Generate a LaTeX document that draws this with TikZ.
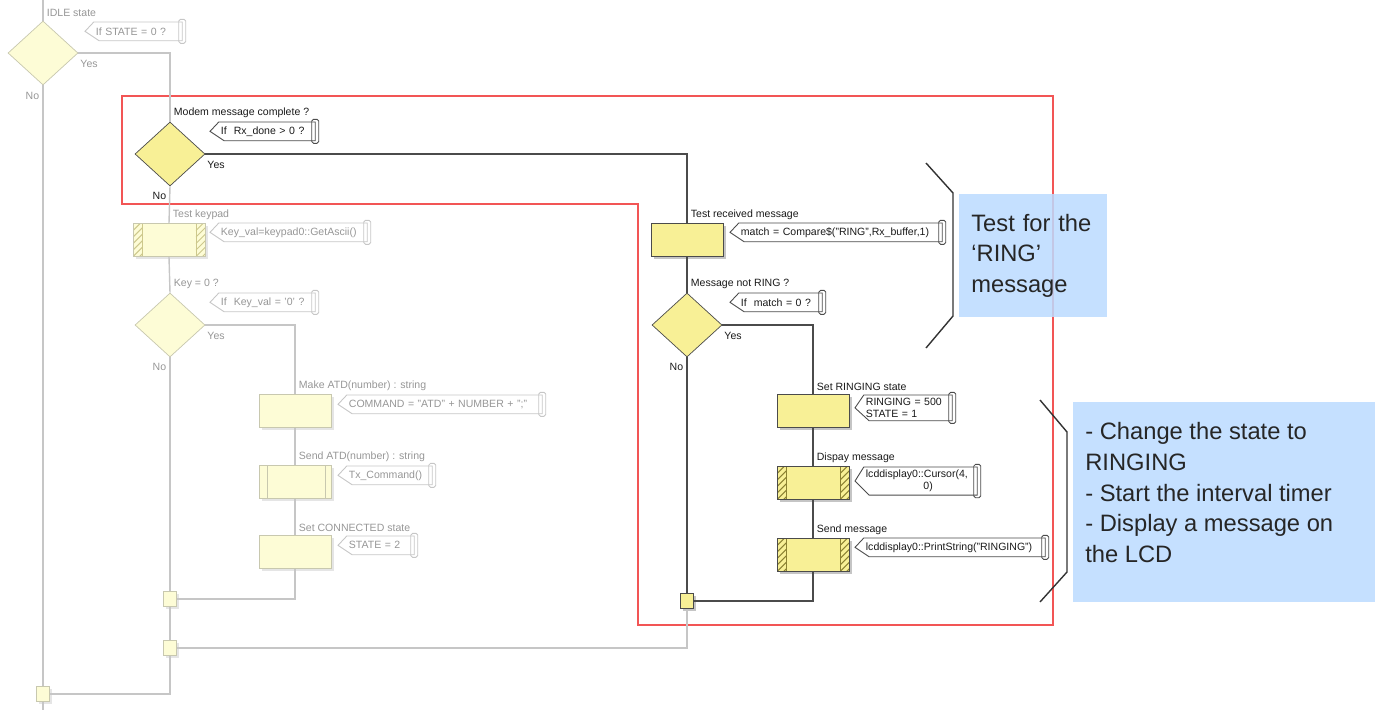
\documentclass[tikz,border=0pt]{standalone}
\usepackage{fontspec}
\setmainfont{Liberation Sans}
\usepackage{xcolor}
\definecolor{dline}{RGB}{75, 75, 75}
\definecolor{fline}{RGB}{198, 198, 198}
\definecolor{fedge}{RGB}{200, 200, 175}
\definecolor{dtext}{RGB}{25, 25, 25}
\definecolor{ftext}{RGB}{150, 150, 150}
\definecolor{dfill}{RGB}{248, 240, 150}
\definecolor{ffill}{RGB}{253, 252, 214}
\definecolor{dhatch}{RGB}{140, 130, 50}
\definecolor{fhatch}{RGB}{205, 200, 140}
\definecolor{redbox}{RGB}{242, 85, 85}
\definecolor{calloutblue}{RGB}{187, 219, 255}
\usepackage{tikz}
\usetikzlibrary{shapes.geometric, arrows.meta, positioning, calc, shadows}

\newcommand{\flowfont}{\fontsize{6}{7}\selectfont}
\newcommand{\calloutfont}{\fontsize{13.5}{17.5}\selectfont}

\begin{document}
\begin{tikzpicture}[x=0.02cm, y=-0.02cm,
		basebox/.style={rectangle, minimum width=1.44cm, minimum height=0.66cm, inner sep=0pt},
		actbox/.style={basebox, draw=dline, fill=dfill,
			drop shadow={shadow xshift=1.5pt, shadow yshift=-1.5pt, fill=black!45}},
		fadebox/.style={basebox, draw=fedge, fill=ffill,
			drop shadow={shadow xshift=1.5pt, shadow yshift=-1.5pt, fill=black!20}},
		hatched/.style={path picture={
				\foreach \side/\dx in {west/0cm, east/-0.18cm} {
					\begin{scope}
						\clip ([xshift=\dx]path picture bounding box.south \side) rectangle ++(0.18cm,0.7cm);
						\foreach \k in {-2,...,5}
						\draw[#1, line width=0.6pt] ([xshift=\dx, yshift=\k*0.13cm]path picture bounding box.south \side) -- ++(0.3cm,0.3cm);
					\end{scope}
				}
				\draw[#1] ([xshift=0.18cm]path picture bounding box.north west) -- ([xshift=0.18cm]path picture bounding box.south west)
				([xshift=-0.18cm]path picture bounding box.north east) -- ([xshift=-0.18cm]path picture bounding box.south east);}},
		subproc/.style={path picture={
				\draw[#1] ([xshift=0.17cm]path picture bounding box.north west) -- ([xshift=0.17cm]path picture bounding box.south west)
				([xshift=-0.11cm]path picture bounding box.north east) -- ([xshift=-0.11cm]path picture bounding box.south east);}},
		dec/.style={diamond, minimum width=1.4cm, minimum height=1.28cm, inner sep=0pt},
		actdec/.style={dec, draw=dline, fill=dfill},
		fadedec/.style={dec, draw=fedge, fill=ffill},
		joint/.style={rectangle, minimum width=0.26cm, minimum height=0.3cm, inner sep=0pt},
		actjoint/.style={joint, draw=dline, fill=dfill,
			drop shadow={shadow xshift=1.5pt, shadow yshift=-1.5pt, fill=black!45}},
		fadejoint/.style={joint, draw=fedge, fill=ffill,
			drop shadow={shadow xshift=1.5pt, shadow yshift=-1.5pt, fill=black!20}},
		headlbl/.style={font=\flowfont, inner sep=1pt, anchor=south west, text=#1},
		yeslbl/.style={font=\flowfont, inner sep=1pt, anchor=north west, text=#1},
		nolbl/.style={font=\flowfont, inner sep=1pt, anchor=north east, text=#1},
		notebase/.style={rectangle, anchor=north west, inner xsep=6pt, inner ysep=1.5pt,
			minimum height=0.36cm, font=\flowfont, align=left,
			append after command={\pgfextra{
					\draw[#1, line width=0.5pt] ([xshift=5pt]\tikzlastnode.north west) -- (\tikzlastnode.west)
					-- ([xshift=8pt]\tikzlastnode.south west) -- ([xshift=-2pt]\tikzlastnode.south east)
					-- ([xshift=-2pt]\tikzlastnode.north east) -- cycle;
					\draw[#1, line width=0.5pt, rounded corners=1pt] ([xshift=-4pt,yshift=1.5pt]\tikzlastnode.north east)
					rectangle ([yshift=-1.5pt]\tikzlastnode.south east);}}},
		note/.style={notebase=dline, text=dtext},
		fnote/.style={notebase=fline, text=ftext},
		flow/.style={draw=dline, line width=0.8pt},
		fflow/.style={draw=fline, line width=0.8pt},
		redline/.style={draw=redbox, line width=1.2pt},
		bracket/.style={draw=black!80, line width=0.8pt},
		callout/.style={rectangle, fill=calloutblue, fill opacity=0.85, text opacity=1,
			anchor=north west, inner xsep=0.24cm, align=left, font=\calloutfont, text=black!85}
		]
		\useasboundingbox (0,0) rectangle (1379,710);
		
		% Rahmen um den aktiven Zweig
		\draw[redline] (122,96) -- (1053,96) -- (1053,625) -- (638,625) -- (638,204) -- (122,204) -- cycle;
		
		% IDLE state
		\coordinate (idletop) at (43,0);
		\coordinate (idleend) at (43,710);
		\node[fadedec] (idle) at (43,53) {};
		\node[headlbl=ftext] (idlelbl) at ([xshift=1pt,yshift=1pt]idle.north) {IDLE state};
		\node[fnote, text width=1.58cm] (idlenote) at (85,22) {If STATE = 0 ?};
		\node[yeslbl=ftext] (idleyes) at ([yshift=-3pt]idle.east) {Yes};
		\node[nolbl=ftext] (idleno) at ([xshift=-1pt,yshift=-3pt]idle.south) {No};
		
		% Modem message complete
		\node[actdec] (modem) at (170,154) {};
		\node[headlbl=dtext] (modemlbl) at ([xshift=1pt,yshift=1pt]modem.north) {Modem message complete ?};
		\node[note, text width=1.74cm] (modemnote) at (210,122) {If \ Rx\_done > 0 ?};
		\node[yeslbl=dtext] (modemyes) at ([yshift=-3pt]modem.east) {Yes};
		\node[nolbl=dtext] (modemno) at ([xshift=-1pt,yshift=-2pt]modem.south) {No};
		
		% linker Zweig (Tastatur)
		\node[fadebox, hatched=fhatch] (keypad) at (169,240) {};
		\node[headlbl=ftext] (keypadlbl) at ([xshift=1pt,yshift=1pt]keypad.north) {Test keypad};
		\node[fnote, text width=2.78cm] (keypadnote) at (210,223) {Key\_val=keypad0::GetAscii()};
		
		\node[fadedec] (keyzero) at (170,325) {};
		\node[headlbl=ftext] (keyzerolbl) at ([xshift=1pt,yshift=1pt]keyzero.north) {Key = 0 ?};
		\node[fnote, text width=1.74cm] (keyzeronote) at (210,293) {If \ Key\_val = '0' ?};
		\node[yeslbl=ftext] (keyzeroyes) at ([yshift=-3pt]keyzero.east) {Yes};
		\node[nolbl=ftext] (keyzerono) at ([xshift=-1pt,yshift=-2pt]keyzero.south) {No};
		
		\node[fadebox] (makeatd) at (295,411) {};
		\node[headlbl=ftext] (makeatdlbl) at ([xshift=1pt,yshift=1pt]makeatd.north) {Make ATD(number) : string};
		\node[fnote, text width=3.72cm] (makeatdnote) at (338,395) {COMMAND = "ATD" + NUMBER + ";"};
		
		\node[fadebox, subproc=fedge] (sendatd) at (295,482) {};
		\node[headlbl=ftext] (sendatdlbl) at ([xshift=1pt,yshift=1pt]sendatd.north) {Send ATD(number) : string};
		\node[fnote, text width=1.52cm] (sendatdnote) at (338,466) {Tx\_Command()};
		
		\node[fadebox] (setconn) at (295,552) {};
		\node[headlbl=ftext] (setconnlbl) at ([xshift=1pt,yshift=1pt]setconn.north) {Set CONNECTED state};
		\node[fnote, text width=1.16cm] (setconnnote) at (338,536) {STATE = 2};
		
		% rechter Zweig (RING)
		\node[actbox] (testrx) at (687,240) {};
		\node[headlbl=dtext] (testrxlbl) at ([xshift=1pt,yshift=1pt]testrx.north) {Test received message};
		\node[note, text width=3.88cm] (testrxnote) at (730,223) {match = Compare\$("RING",Rx\_buffer,1)};
		
		\node[actdec] (notring) at (687,325) {};
		\node[headlbl=dtext] (notringlbl) at ([xshift=1pt,yshift=1pt]notring.north) {Message not RING ?};
		\node[note, text width=1.48cm] (notringnote) at (730,293) {If \ match = 0 ?};
		\node[yeslbl=dtext] (notringyes) at ([yshift=-3pt]notring.east) {Yes};
		\node[nolbl=dtext] (notringno) at ([xshift=-1pt,yshift=-2pt]notring.south) {No};
		
		\node[actbox] (setring) at (813,411) {};
		\node[headlbl=dtext] (setringlbl) at ([xshift=1pt,yshift=1pt]setring.north) {Set RINGING state};
		\node[note, text width=1.58cm] (setringnote) at (855,395) {RINGING = 500\\STATE = 1};
		
		\node[actbox, hatched=dhatch] (dispmsg) at (813,483) {};
		\node[headlbl=dtext] (dispmsglbl) at ([xshift=1pt,yshift=1pt]dispmsg.north) {Dispay message};
		\node[note, text width=2.08cm] (dispmsgnote) at (855,467) {lcddisplay0::Cursor(4,\\\hspace*{1.15cm}0)};
		
		\node[actbox, hatched=dhatch] (sendmsg) at (813,555) {};
		\node[headlbl=dtext] (sendmsglbl) at ([xshift=1pt,yshift=1pt]sendmsg.north) {Send message};
		\node[note, text width=3.44cm] (sendmsgnote) at (855,538) {lcddisplay0::PrintString("RINGING")};
		
		% Verbindungspunkte
		\node[fadejoint] (joinkey) at (170,599) {};
		\node[fadejoint] (joinmodem) at (170,648) {};
		\node[fadejoint] (joinidle) at (43,694) {};
		\node[actjoint] (joinring) at (687,601) {};
		
		% Linien (inaktiv)
		\draw[fflow] (idletop) -- (idle.north);
		\draw[fflow] (idle.south) -- (joinidle.north);
		\draw[fflow] (joinidle.south) -- (idleend);
		\draw[fflow] (idle.east) -| (modem.north);
		\draw[fflow] (modem.south) -- (keypad.north);
		\draw[fflow] (keypad.south) -- (keyzero.north);
		\draw[fflow] (keyzero.south) -- (joinkey.north);
		\draw[fflow] (keyzero.east) -| (makeatd.north);
		\draw[fflow] (makeatd.south) -- (sendatd.north);
		\draw[fflow] (sendatd.south) -- (setconn.north);
		\draw[fflow] (setconn.south) |- (joinkey.east);
		\draw[fflow] (joinkey.south) -- (joinmodem.north);
		\draw[fflow] (joinmodem.south) |- (joinidle.east);
		\draw[fflow] (joinring.south) |- (joinmodem.east);
		
		% Linien (aktiv)
		\draw[flow] (modem.east) -| (testrx.north);
		\draw[flow] (testrx.south) -- (notring.north);
		\draw[flow] (notring.south) -- (joinring.north);
		\draw[flow] (notring.east) -| (setring.north);
		\draw[flow] (setring.south) -- (dispmsg.north);
		\draw[flow] (dispmsg.south) -- (sendmsg.north);
		\draw[flow] (sendmsg.south) |- (joinring.east);
		
		% Klammern und Erklaerungen
		\draw[bracket] (926,163) -- (953,193) -- (953,316) -- (926,348);
		\node[callout, text width=2.48cm, minimum height=2.46cm] (ringtext) at (959,194)
		{Test for the\\‘RING’\\message};
		
		\draw[bracket] (1040,400) -- (1067,432) -- (1067,572) -- (1040,602);
		\node[callout, inner ysep=0.4cm] (ringingtext) at (1073,402)
		{\parbox[c][3.2cm][t]{5.56cm}{\raggedright - Change the state to\\RINGING\\- Start the interval timer\\- Display a message on\\the LCD}};
	\end{tikzpicture}
\end{document}
